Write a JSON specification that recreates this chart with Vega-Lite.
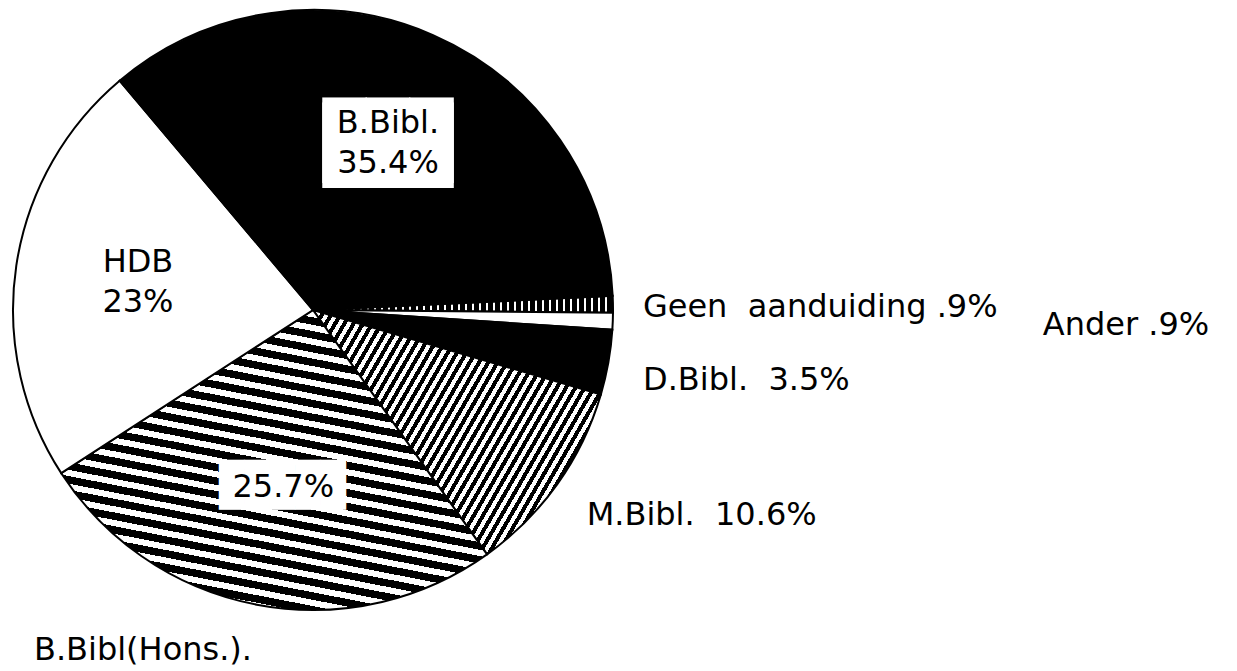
{
"$schema": "https://vega.github.io/schema/vega-lite/v6.json",
"width": 626,
"height": 620,
"autosize": {"type": "none"},
"padding": {"left": 0, "top": 0, "right": 611, "bottom": 51},
"background": "white",
"config": {"view": {"stroke": null}},
"data": {"values": [
 {"label": "Geen aanduiding", "value": 0.9, "ord": 1, "inner": "", "outer": "Geen\u00a0 aanduiding .9%"},
 {"label": "Ander", "value": 0.9, "ord": 2, "inner": "", "outer": "Ander .9%"},
 {"label": "D.Bibl.", "value": 3.5, "ord": 3, "inner": "", "outer": "D.Bibl.\u00a0 3.5%"},
 {"label": "M.Bibl.", "value": 10.6, "ord": 4, "inner": "", "outer": "M.Bibl.\u00a0 10.6%"},
 {"label": "B.Bibl(Hons.).", "value": 25.7, "ord": 5, "inner": "25.7%", "outer": "B.Bibl(Hons.)."},
 {"label": "HDB", "value": 23, "ord": 6, "inner": "HDB\n23%", "outer": ""},
 {"label": "B.Bibl.", "value": 35.4, "ord": 7, "inner": "B.Bibl.\n35.4%", "outer": ""}
]},
"encoding": {
 "theta": {"field": "value", "type": "quantitative", "stack": true, "scale": {"domain": [0, 100], "range": [1.5237, 7.8069]}},
 "order": {"field": "ord", "type": "quantitative", "sort": "ascending"}
},
"layer": [
 {"mark": {"type": "arc", "outerRadius": 300, "stroke": "black", "strokeWidth": 2},
  "encoding": {"fill": {"condition": [
   {"test": "datum.ord==1", "value": {"gradient": "linear", "x1": 0, "y1": 0, "x2": 1.1667, "y2": 0, "stops": [
{"offset":0,"color":"#000"},{"offset":0.013,"color":"#000"},{"offset":0.013,"color":"#fff"},{"offset":0.02,"color":"#fff"},
{"offset":0.02,"color":"#000"},{"offset":0.033,"color":"#000"},{"offset":0.033,"color":"#fff"},{"offset":0.04,"color":"#fff"},
{"offset":0.04,"color":"#000"},{"offset":0.053,"color":"#000"},{"offset":0.053,"color":"#fff"},{"offset":0.06,"color":"#fff"},
{"offset":0.06,"color":"#000"},{"offset":0.073,"color":"#000"},{"offset":0.073,"color":"#fff"},{"offset":0.08,"color":"#fff"},
{"offset":0.08,"color":"#000"},{"offset":0.093,"color":"#000"},{"offset":0.093,"color":"#fff"},{"offset":0.1,"color":"#fff"},
{"offset":0.1,"color":"#000"},{"offset":0.113,"color":"#000"},{"offset":0.113,"color":"#fff"},{"offset":0.12,"color":"#fff"},
{"offset":0.12,"color":"#000"},{"offset":0.133,"color":"#000"},{"offset":0.133,"color":"#fff"},{"offset":0.14,"color":"#fff"},
{"offset":0.14,"color":"#000"},{"offset":0.153,"color":"#000"},{"offset":0.153,"color":"#fff"},{"offset":0.16,"color":"#fff"},
{"offset":0.16,"color":"#000"},{"offset":0.173,"color":"#000"},{"offset":0.173,"color":"#fff"},{"offset":0.18,"color":"#fff"},
{"offset":0.18,"color":"#000"},{"offset":0.193,"color":"#000"},{"offset":0.193,"color":"#fff"},{"offset":0.2,"color":"#fff"},
{"offset":0.2,"color":"#000"},{"offset":0.213,"color":"#000"},{"offset":0.213,"color":"#fff"},{"offset":0.22,"color":"#fff"},
{"offset":0.22,"color":"#000"},{"offset":0.233,"color":"#000"},{"offset":0.233,"color":"#fff"},{"offset":0.24,"color":"#fff"},
{"offset":0.24,"color":"#000"},{"offset":0.253,"color":"#000"},{"offset":0.253,"color":"#fff"},{"offset":0.26,"color":"#fff"},
{"offset":0.26,"color":"#000"},{"offset":0.273,"color":"#000"},{"offset":0.273,"color":"#fff"},{"offset":0.28,"color":"#fff"},
{"offset":0.28,"color":"#000"},{"offset":0.293,"color":"#000"},{"offset":0.293,"color":"#fff"},{"offset":0.3,"color":"#fff"},
{"offset":0.3,"color":"#000"},{"offset":0.313,"color":"#000"},{"offset":0.313,"color":"#fff"},{"offset":0.32,"color":"#fff"},
{"offset":0.32,"color":"#000"},{"offset":0.333,"color":"#000"},{"offset":0.333,"color":"#fff"},{"offset":0.34,"color":"#fff"},
{"offset":0.34,"color":"#000"},{"offset":0.353,"color":"#000"},{"offset":0.353,"color":"#fff"},{"offset":0.36,"color":"#fff"},
{"offset":0.36,"color":"#000"},{"offset":0.373,"color":"#000"},{"offset":0.373,"color":"#fff"},{"offset":0.38,"color":"#fff"},
{"offset":0.38,"color":"#000"},{"offset":0.393,"color":"#000"},{"offset":0.393,"color":"#fff"},{"offset":0.4,"color":"#fff"},
{"offset":0.4,"color":"#000"},{"offset":0.413,"color":"#000"},{"offset":0.413,"color":"#fff"},{"offset":0.42,"color":"#fff"},
{"offset":0.42,"color":"#000"},{"offset":0.433,"color":"#000"},{"offset":0.433,"color":"#fff"},{"offset":0.44,"color":"#fff"},
{"offset":0.44,"color":"#000"},{"offset":0.453,"color":"#000"},{"offset":0.453,"color":"#fff"},{"offset":0.46,"color":"#fff"},
{"offset":0.46,"color":"#000"},{"offset":0.473,"color":"#000"},{"offset":0.473,"color":"#fff"},{"offset":0.48,"color":"#fff"},
{"offset":0.48,"color":"#000"},{"offset":0.493,"color":"#000"},{"offset":0.493,"color":"#fff"},{"offset":0.5,"color":"#fff"},
{"offset":0.5,"color":"#000"},{"offset":0.513,"color":"#000"},{"offset":0.513,"color":"#fff"},{"offset":0.52,"color":"#fff"},
{"offset":0.52,"color":"#000"},{"offset":0.533,"color":"#000"},{"offset":0.533,"color":"#fff"},{"offset":0.54,"color":"#fff"},
{"offset":0.54,"color":"#000"},{"offset":0.553,"color":"#000"},{"offset":0.553,"color":"#fff"},{"offset":0.56,"color":"#fff"},
{"offset":0.56,"color":"#000"},{"offset":0.573,"color":"#000"},{"offset":0.573,"color":"#fff"},{"offset":0.58,"color":"#fff"},
{"offset":0.58,"color":"#000"},{"offset":0.593,"color":"#000"},{"offset":0.593,"color":"#fff"},{"offset":0.6,"color":"#fff"},
{"offset":0.6,"color":"#000"},{"offset":0.613,"color":"#000"},{"offset":0.613,"color":"#fff"},{"offset":0.62,"color":"#fff"},
{"offset":0.62,"color":"#000"},{"offset":0.633,"color":"#000"},{"offset":0.633,"color":"#fff"},{"offset":0.64,"color":"#fff"},
{"offset":0.64,"color":"#000"},{"offset":0.653,"color":"#000"},{"offset":0.653,"color":"#fff"},{"offset":0.66,"color":"#fff"},
{"offset":0.66,"color":"#000"},{"offset":0.673,"color":"#000"},{"offset":0.673,"color":"#fff"},{"offset":0.68,"color":"#fff"},
{"offset":0.68,"color":"#000"},{"offset":0.693,"color":"#000"},{"offset":0.693,"color":"#fff"},{"offset":0.7,"color":"#fff"},
{"offset":0.7,"color":"#000"},{"offset":0.713,"color":"#000"},{"offset":0.713,"color":"#fff"},{"offset":0.72,"color":"#fff"},
{"offset":0.72,"color":"#000"},{"offset":0.733,"color":"#000"},{"offset":0.733,"color":"#fff"},{"offset":0.74,"color":"#fff"},
{"offset":0.74,"color":"#000"},{"offset":0.753,"color":"#000"},{"offset":0.753,"color":"#fff"},{"offset":0.76,"color":"#fff"},
{"offset":0.76,"color":"#000"},{"offset":0.773,"color":"#000"},{"offset":0.773,"color":"#fff"},{"offset":0.78,"color":"#fff"},
{"offset":0.78,"color":"#000"},{"offset":0.793,"color":"#000"},{"offset":0.793,"color":"#fff"},{"offset":0.8,"color":"#fff"},
{"offset":0.8,"color":"#000"},{"offset":0.813,"color":"#000"},{"offset":0.813,"color":"#fff"},{"offset":0.82,"color":"#fff"},
{"offset":0.82,"color":"#000"},{"offset":0.833,"color":"#000"},{"offset":0.833,"color":"#fff"},{"offset":0.84,"color":"#fff"},
{"offset":0.84,"color":"#000"},{"offset":0.853,"color":"#000"},{"offset":0.853,"color":"#fff"},{"offset":0.86,"color":"#fff"},
{"offset":0.86,"color":"#000"},{"offset":0.873,"color":"#000"},{"offset":0.873,"color":"#fff"},{"offset":0.88,"color":"#fff"},
{"offset":0.88,"color":"#000"},{"offset":0.893,"color":"#000"},{"offset":0.893,"color":"#fff"},{"offset":0.9,"color":"#fff"},
{"offset":0.9,"color":"#000"},{"offset":0.913,"color":"#000"},{"offset":0.913,"color":"#fff"},{"offset":0.92,"color":"#fff"},
{"offset":0.92,"color":"#000"},{"offset":0.933,"color":"#000"},{"offset":0.933,"color":"#fff"},{"offset":0.94,"color":"#fff"},
{"offset":0.94,"color":"#000"},{"offset":0.953,"color":"#000"},{"offset":0.953,"color":"#fff"},{"offset":0.96,"color":"#fff"},
{"offset":0.96,"color":"#000"},{"offset":0.973,"color":"#000"},{"offset":0.973,"color":"#fff"},{"offset":0.98,"color":"#fff"},
{"offset":0.98,"color":"#000"},{"offset":0.993,"color":"#000"},{"offset":0.993,"color":"#fff"},{"offset":1,"color":"#fff"}
   ]}},
   {"test": "datum.ord==2 || datum.ord==6", "value": "white"},
   {"test": "datum.ord==4", "value": {"gradient": "linear", "x1": 0, "y1": 0, "x2": 1.2938, "y2": 0.6344, "stops": [
{"offset":0,"color":"#000"},{"offset":0.01,"color":"#000"},{"offset":0.01,"color":"#fff"},{"offset":0.02,"color":"#fff"},
{"offset":0.02,"color":"#000"},{"offset":0.03,"color":"#000"},{"offset":0.03,"color":"#fff"},{"offset":0.04,"color":"#fff"},
{"offset":0.04,"color":"#000"},{"offset":0.05,"color":"#000"},{"offset":0.05,"color":"#fff"},{"offset":0.06,"color":"#fff"},
{"offset":0.06,"color":"#000"},{"offset":0.07,"color":"#000"},{"offset":0.07,"color":"#fff"},{"offset":0.08,"color":"#fff"},
{"offset":0.08,"color":"#000"},{"offset":0.09,"color":"#000"},{"offset":0.09,"color":"#fff"},{"offset":0.1,"color":"#fff"},
{"offset":0.1,"color":"#000"},{"offset":0.11,"color":"#000"},{"offset":0.11,"color":"#fff"},{"offset":0.12,"color":"#fff"},
{"offset":0.12,"color":"#000"},{"offset":0.13,"color":"#000"},{"offset":0.13,"color":"#fff"},{"offset":0.14,"color":"#fff"},
{"offset":0.14,"color":"#000"},{"offset":0.15,"color":"#000"},{"offset":0.15,"color":"#fff"},{"offset":0.16,"color":"#fff"},
{"offset":0.16,"color":"#000"},{"offset":0.17,"color":"#000"},{"offset":0.17,"color":"#fff"},{"offset":0.18,"color":"#fff"},
{"offset":0.18,"color":"#000"},{"offset":0.19,"color":"#000"},{"offset":0.19,"color":"#fff"},{"offset":0.2,"color":"#fff"},
{"offset":0.2,"color":"#000"},{"offset":0.21,"color":"#000"},{"offset":0.21,"color":"#fff"},{"offset":0.22,"color":"#fff"},
{"offset":0.22,"color":"#000"},{"offset":0.23,"color":"#000"},{"offset":0.23,"color":"#fff"},{"offset":0.24,"color":"#fff"},
{"offset":0.24,"color":"#000"},{"offset":0.25,"color":"#000"},{"offset":0.25,"color":"#fff"},{"offset":0.26,"color":"#fff"},
{"offset":0.26,"color":"#000"},{"offset":0.27,"color":"#000"},{"offset":0.27,"color":"#fff"},{"offset":0.28,"color":"#fff"},
{"offset":0.28,"color":"#000"},{"offset":0.29,"color":"#000"},{"offset":0.29,"color":"#fff"},{"offset":0.3,"color":"#fff"},
{"offset":0.3,"color":"#000"},{"offset":0.31,"color":"#000"},{"offset":0.31,"color":"#fff"},{"offset":0.32,"color":"#fff"},
{"offset":0.32,"color":"#000"},{"offset":0.33,"color":"#000"},{"offset":0.33,"color":"#fff"},{"offset":0.34,"color":"#fff"},
{"offset":0.34,"color":"#000"},{"offset":0.35,"color":"#000"},{"offset":0.35,"color":"#fff"},{"offset":0.36,"color":"#fff"},
{"offset":0.36,"color":"#000"},{"offset":0.37,"color":"#000"},{"offset":0.37,"color":"#fff"},{"offset":0.38,"color":"#fff"},
{"offset":0.38,"color":"#000"},{"offset":0.39,"color":"#000"},{"offset":0.39,"color":"#fff"},{"offset":0.4,"color":"#fff"},
{"offset":0.4,"color":"#000"},{"offset":0.41,"color":"#000"},{"offset":0.41,"color":"#fff"},{"offset":0.42,"color":"#fff"},
{"offset":0.42,"color":"#000"},{"offset":0.43,"color":"#000"},{"offset":0.43,"color":"#fff"},{"offset":0.44,"color":"#fff"},
{"offset":0.44,"color":"#000"},{"offset":0.45,"color":"#000"},{"offset":0.45,"color":"#fff"},{"offset":0.46,"color":"#fff"},
{"offset":0.46,"color":"#000"},{"offset":0.47,"color":"#000"},{"offset":0.47,"color":"#fff"},{"offset":0.48,"color":"#fff"},
{"offset":0.48,"color":"#000"},{"offset":0.49,"color":"#000"},{"offset":0.49,"color":"#fff"},{"offset":0.5,"color":"#fff"},
{"offset":0.5,"color":"#000"},{"offset":0.51,"color":"#000"},{"offset":0.51,"color":"#fff"},{"offset":0.52,"color":"#fff"},
{"offset":0.52,"color":"#000"},{"offset":0.53,"color":"#000"},{"offset":0.53,"color":"#fff"},{"offset":0.54,"color":"#fff"},
{"offset":0.54,"color":"#000"},{"offset":0.55,"color":"#000"},{"offset":0.55,"color":"#fff"},{"offset":0.56,"color":"#fff"},
{"offset":0.56,"color":"#000"},{"offset":0.57,"color":"#000"},{"offset":0.57,"color":"#fff"},{"offset":0.58,"color":"#fff"},
{"offset":0.58,"color":"#000"},{"offset":0.59,"color":"#000"},{"offset":0.59,"color":"#fff"},{"offset":0.6,"color":"#fff"},
{"offset":0.6,"color":"#000"},{"offset":0.61,"color":"#000"},{"offset":0.61,"color":"#fff"},{"offset":0.62,"color":"#fff"},
{"offset":0.62,"color":"#000"},{"offset":0.63,"color":"#000"},{"offset":0.63,"color":"#fff"},{"offset":0.64,"color":"#fff"},
{"offset":0.64,"color":"#000"},{"offset":0.65,"color":"#000"},{"offset":0.65,"color":"#fff"},{"offset":0.66,"color":"#fff"},
{"offset":0.66,"color":"#000"},{"offset":0.67,"color":"#000"},{"offset":0.67,"color":"#fff"},{"offset":0.68,"color":"#fff"},
{"offset":0.68,"color":"#000"},{"offset":0.69,"color":"#000"},{"offset":0.69,"color":"#fff"},{"offset":0.7,"color":"#fff"},
{"offset":0.7,"color":"#000"},{"offset":0.71,"color":"#000"},{"offset":0.71,"color":"#fff"},{"offset":0.72,"color":"#fff"},
{"offset":0.72,"color":"#000"},{"offset":0.73,"color":"#000"},{"offset":0.73,"color":"#fff"},{"offset":0.74,"color":"#fff"},
{"offset":0.74,"color":"#000"},{"offset":0.75,"color":"#000"},{"offset":0.75,"color":"#fff"},{"offset":0.76,"color":"#fff"},
{"offset":0.76,"color":"#000"},{"offset":0.77,"color":"#000"},{"offset":0.77,"color":"#fff"},{"offset":0.78,"color":"#fff"},
{"offset":0.78,"color":"#000"},{"offset":0.79,"color":"#000"},{"offset":0.79,"color":"#fff"},{"offset":0.8,"color":"#fff"},
{"offset":0.8,"color":"#000"},{"offset":0.81,"color":"#000"},{"offset":0.81,"color":"#fff"},{"offset":0.82,"color":"#fff"},
{"offset":0.82,"color":"#000"},{"offset":0.83,"color":"#000"},{"offset":0.83,"color":"#fff"},{"offset":0.84,"color":"#fff"},
{"offset":0.84,"color":"#000"},{"offset":0.85,"color":"#000"},{"offset":0.85,"color":"#fff"},{"offset":0.86,"color":"#fff"},
{"offset":0.86,"color":"#000"},{"offset":0.87,"color":"#000"},{"offset":0.87,"color":"#fff"},{"offset":0.88,"color":"#fff"},
{"offset":0.88,"color":"#000"},{"offset":0.89,"color":"#000"},{"offset":0.89,"color":"#fff"},{"offset":0.9,"color":"#fff"},
{"offset":0.9,"color":"#000"},{"offset":0.91,"color":"#000"},{"offset":0.91,"color":"#fff"},{"offset":0.92,"color":"#fff"},
{"offset":0.92,"color":"#000"},{"offset":0.93,"color":"#000"},{"offset":0.93,"color":"#fff"},{"offset":0.94,"color":"#fff"},
{"offset":0.94,"color":"#000"},{"offset":0.95,"color":"#000"},{"offset":0.95,"color":"#fff"},{"offset":0.96,"color":"#fff"},
{"offset":0.96,"color":"#000"},{"offset":0.97,"color":"#000"},{"offset":0.97,"color":"#fff"},{"offset":0.98,"color":"#fff"},
{"offset":0.98,"color":"#000"},{"offset":0.99,"color":"#000"},{"offset":0.99,"color":"#fff"},{"offset":1,"color":"#fff"}
   ]}},
   {"test": "datum.ord==5", "value": {"gradient": "linear", "x1": 1, "y1": 0, "x2": 0.6239, "y2": 1.3625, "stops": [
{"offset":0,"color":"#000"},{"offset":0.0172,"color":"#000"},{"offset":0.0172,"color":"#fff"},{"offset":0.03125,"color":"#fff"},
{"offset":0.03125,"color":"#000"},{"offset":0.0484,"color":"#000"},{"offset":0.0484,"color":"#fff"},{"offset":0.0625,"color":"#fff"},
{"offset":0.0625,"color":"#000"},{"offset":0.0797,"color":"#000"},{"offset":0.0797,"color":"#fff"},{"offset":0.09375,"color":"#fff"},
{"offset":0.09375,"color":"#000"},{"offset":0.1109,"color":"#000"},{"offset":0.1109,"color":"#fff"},{"offset":0.125,"color":"#fff"},
{"offset":0.125,"color":"#000"},{"offset":0.1422,"color":"#000"},{"offset":0.1422,"color":"#fff"},{"offset":0.15625,"color":"#fff"},
{"offset":0.15625,"color":"#000"},{"offset":0.1734,"color":"#000"},{"offset":0.1734,"color":"#fff"},{"offset":0.1875,"color":"#fff"},
{"offset":0.1875,"color":"#000"},{"offset":0.2047,"color":"#000"},{"offset":0.2047,"color":"#fff"},{"offset":0.21875,"color":"#fff"},
{"offset":0.21875,"color":"#000"},{"offset":0.2359,"color":"#000"},{"offset":0.2359,"color":"#fff"},{"offset":0.25,"color":"#fff"},
{"offset":0.25,"color":"#000"},{"offset":0.2672,"color":"#000"},{"offset":0.2672,"color":"#fff"},{"offset":0.28125,"color":"#fff"},
{"offset":0.28125,"color":"#000"},{"offset":0.2984,"color":"#000"},{"offset":0.2984,"color":"#fff"},{"offset":0.3125,"color":"#fff"},
{"offset":0.3125,"color":"#000"},{"offset":0.3297,"color":"#000"},{"offset":0.3297,"color":"#fff"},{"offset":0.34375,"color":"#fff"},
{"offset":0.34375,"color":"#000"},{"offset":0.3609,"color":"#000"},{"offset":0.3609,"color":"#fff"},{"offset":0.375,"color":"#fff"},
{"offset":0.375,"color":"#000"},{"offset":0.3922,"color":"#000"},{"offset":0.3922,"color":"#fff"},{"offset":0.40625,"color":"#fff"},
{"offset":0.40625,"color":"#000"},{"offset":0.4234,"color":"#000"},{"offset":0.4234,"color":"#fff"},{"offset":0.4375,"color":"#fff"},
{"offset":0.4375,"color":"#000"},{"offset":0.4547,"color":"#000"},{"offset":0.4547,"color":"#fff"},{"offset":0.46875,"color":"#fff"},
{"offset":0.46875,"color":"#000"},{"offset":0.4859,"color":"#000"},{"offset":0.4859,"color":"#fff"},{"offset":0.5,"color":"#fff"},
{"offset":0.5,"color":"#000"},{"offset":0.5172,"color":"#000"},{"offset":0.5172,"color":"#fff"},{"offset":0.53125,"color":"#fff"},
{"offset":0.53125,"color":"#000"},{"offset":0.5484,"color":"#000"},{"offset":0.5484,"color":"#fff"},{"offset":0.5625,"color":"#fff"},
{"offset":0.5625,"color":"#000"},{"offset":0.5797,"color":"#000"},{"offset":0.5797,"color":"#fff"},{"offset":0.59375,"color":"#fff"},
{"offset":0.59375,"color":"#000"},{"offset":0.6109,"color":"#000"},{"offset":0.6109,"color":"#fff"},{"offset":0.625,"color":"#fff"},
{"offset":0.625,"color":"#000"},{"offset":0.6422,"color":"#000"},{"offset":0.6422,"color":"#fff"},{"offset":0.65625,"color":"#fff"},
{"offset":0.65625,"color":"#000"},{"offset":0.6734,"color":"#000"},{"offset":0.6734,"color":"#fff"},{"offset":0.6875,"color":"#fff"},
{"offset":0.6875,"color":"#000"},{"offset":0.7047,"color":"#000"},{"offset":0.7047,"color":"#fff"},{"offset":0.71875,"color":"#fff"},
{"offset":0.71875,"color":"#000"},{"offset":0.7359,"color":"#000"},{"offset":0.7359,"color":"#fff"},{"offset":0.75,"color":"#fff"},
{"offset":0.75,"color":"#000"},{"offset":0.7672,"color":"#000"},{"offset":0.7672,"color":"#fff"},{"offset":0.78125,"color":"#fff"},
{"offset":0.78125,"color":"#000"},{"offset":0.7984,"color":"#000"},{"offset":0.7984,"color":"#fff"},{"offset":0.8125,"color":"#fff"},
{"offset":0.8125,"color":"#000"},{"offset":0.8297,"color":"#000"},{"offset":0.8297,"color":"#fff"},{"offset":0.84375,"color":"#fff"},
{"offset":0.84375,"color":"#000"},{"offset":0.8609,"color":"#000"},{"offset":0.8609,"color":"#fff"},{"offset":0.875,"color":"#fff"},
{"offset":0.875,"color":"#000"},{"offset":0.8922,"color":"#000"},{"offset":0.8922,"color":"#fff"},{"offset":0.90625,"color":"#fff"},
{"offset":0.90625,"color":"#000"},{"offset":0.9234,"color":"#000"},{"offset":0.9234,"color":"#fff"},{"offset":0.9375,"color":"#fff"},
{"offset":0.9375,"color":"#000"},{"offset":0.9547,"color":"#000"},{"offset":0.9547,"color":"#fff"},{"offset":0.96875,"color":"#fff"},
{"offset":0.96875,"color":"#000"},{"offset":0.9859,"color":"#000"},{"offset":0.9859,"color":"#fff"},{"offset":1,"color":"#fff"}
   ]}}
  ], "value": "black"}}
 },
 {"mark": {"type": "text", "radius": 180, "dx": 3, "dy": -2, "font": "DejaVu Sans Mono", "fontSize": 72, "fill": "white", "align": "center", "baseline": "middle", "lineBreak": "\n", "lineHeight": 5},
  "encoding": {"text": {"condition": {"test": "datum.ord==7", "value": "███\n███"}, "value": ""}}},
 {"mark": {"type": "text", "radius": 180, "dx": 3, "dy": -1, "font": "DejaVu Sans Mono", "fontSize": 42, "fill": "white", "align": "center", "baseline": "middle"},
  "encoding": {"text": {"condition": {"test": "datum.ord==5", "value": "█████"}, "value": ""}}},
 {"mark": {"type": "text", "radius": 180, "dx": 3, "dy": -22, "font": "DejaVu Sans", "fontSize": 32, "fill": "black", "align": "center", "baseline": "middle", "lineBreak": "\n", "lineHeight": 40},
  "encoding": {"text": {"condition": {"test": "datum.ord>=6", "field": "inner", "type": "nominal"}, "value": ""}}},
 {"mark": {"type": "text", "radius": 180, "dx": 4, "dy": 0, "font": "DejaVu Sans", "fontSize": 32, "fill": "black", "align": "center", "baseline": "middle"},
  "encoding": {"text": {"condition": {"test": "datum.ord==5", "field": "inner", "type": "nominal"}, "value": ""}}},
 {"mark": {"type": "text", "radius": 320, "dx": 10, "dy": 13, "font": "DejaVu Sans", "fontSize": 32, "fill": "black", "align": "left", "baseline": "alphabetic"},
  "encoding": {"text": {"condition": {"test": "datum.ord==1", "field": "outer", "type": "nominal"}, "value": ""}}},
 {"mark": {"type": "text", "radius": 320, "dx": 410, "dy": 13, "font": "DejaVu Sans", "fontSize": 32, "fill": "black", "align": "left", "baseline": "alphabetic"},
  "encoding": {"text": {"condition": {"test": "datum.ord==2", "field": "outer", "type": "nominal"}, "value": ""}}},
 {"mark": {"type": "text", "radius": 320, "dx": 15, "dy": 24, "font": "DejaVu Sans", "fontSize": 32, "fill": "black", "align": "left", "baseline": "alphabetic"},
  "encoding": {"text": {"condition": {"test": "datum.ord==3", "field": "outer", "type": "nominal"}, "value": ""}}},
 {"mark": {"type": "text", "radius": 320, "dx": 13, "dy": 29, "font": "DejaVu Sans", "fontSize": 32, "fill": "black", "align": "left", "baseline": "alphabetic"},
  "encoding": {"text": {"condition": {"test": "datum.ord==4", "field": "outer", "type": "nominal"}, "value": ""}}},
 {"mark": {"type": "text", "radius": 320, "dx": -1, "dy": 36, "font": "DejaVu Sans", "fontSize": 32, "fill": "black", "align": "right", "baseline": "alphabetic"},
  "encoding": {"text": {"condition": {"test": "datum.ord==5", "field": "outer", "type": "nominal"}, "value": ""}}}
]
}
